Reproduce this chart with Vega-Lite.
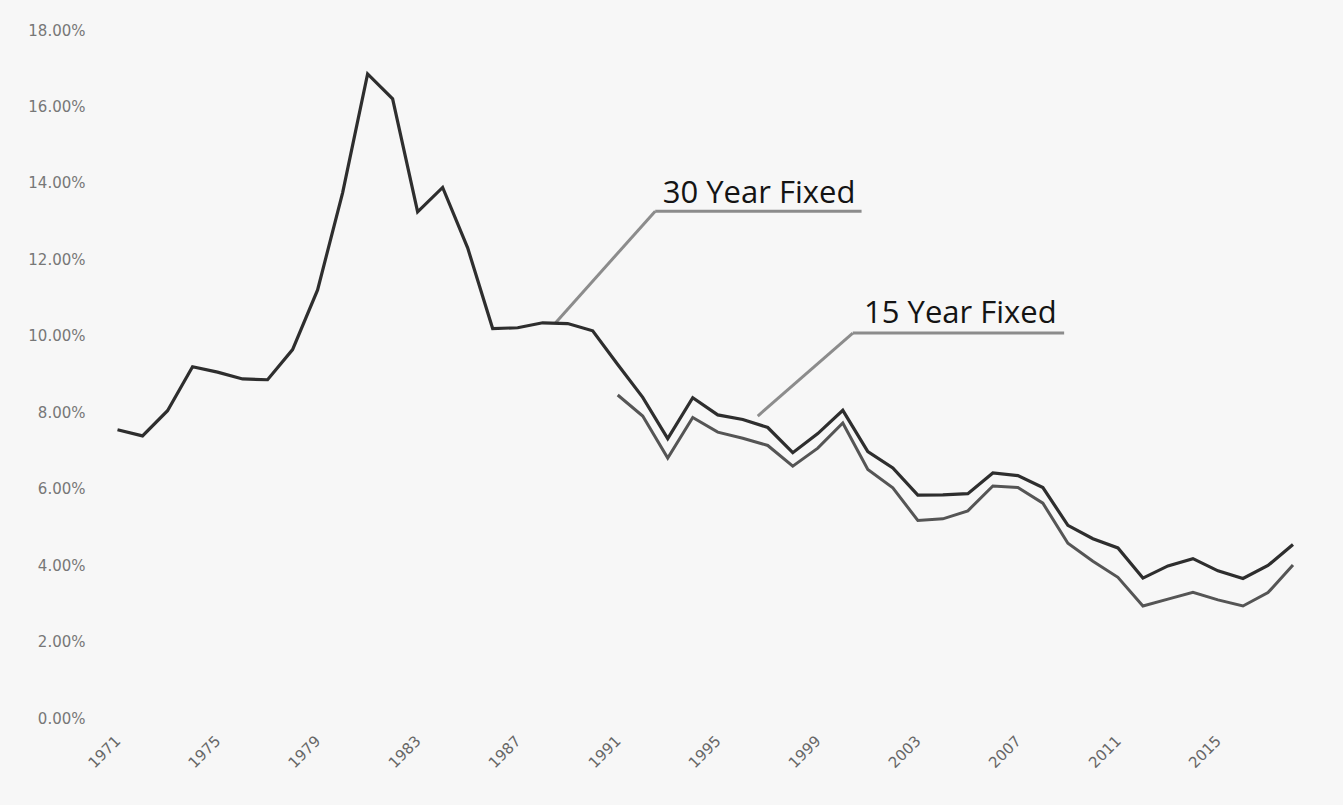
{
  "$schema": "https://vega.github.io/schema/vega-lite/v6.json",
  "autosize": "none",
  "width": 1238,
  "height": 688,
  "padding": {"left": 95, "top": 30, "right": 10, "bottom": 87},
  "background": "#f7f7f7",
  "config": {"view": {"stroke": null}},
  "datasets": {
    "y30": [
      {"year": 1971, "rate": 7.54}, {"year": 1972, "rate": 7.38}, {"year": 1973, "rate": 8.04},
      {"year": 1974, "rate": 9.19}, {"year": 1975, "rate": 9.05}, {"year": 1976, "rate": 8.87},
      {"year": 1977, "rate": 8.85}, {"year": 1978, "rate": 9.64}, {"year": 1979, "rate": 11.2},
      {"year": 1980, "rate": 13.74}, {"year": 1981, "rate": 16.85}, {"year": 1982, "rate": 16.2},
      {"year": 1983, "rate": 13.24}, {"year": 1984, "rate": 13.88}, {"year": 1985, "rate": 12.3},
      {"year": 1986, "rate": 10.19}, {"year": 1987, "rate": 10.21}, {"year": 1988, "rate": 10.34},
      {"year": 1989, "rate": 10.32}, {"year": 1990, "rate": 10.13}, {"year": 1991, "rate": 9.25},
      {"year": 1992, "rate": 8.39}, {"year": 1993, "rate": 7.31}, {"year": 1994, "rate": 8.38},
      {"year": 1995, "rate": 7.93}, {"year": 1996, "rate": 7.81}, {"year": 1997, "rate": 7.6},
      {"year": 1998, "rate": 6.94}, {"year": 1999, "rate": 7.44}, {"year": 2000, "rate": 8.05},
      {"year": 2001, "rate": 6.97}, {"year": 2002, "rate": 6.54}, {"year": 2003, "rate": 5.83},
      {"year": 2004, "rate": 5.84}, {"year": 2005, "rate": 5.87}, {"year": 2006, "rate": 6.41},
      {"year": 2007, "rate": 6.34}, {"year": 2008, "rate": 6.03}, {"year": 2009, "rate": 5.04},
      {"year": 2010, "rate": 4.69}, {"year": 2011, "rate": 4.45}, {"year": 2012, "rate": 3.66},
      {"year": 2013, "rate": 3.98}, {"year": 2014, "rate": 4.17}, {"year": 2015, "rate": 3.85},
      {"year": 2016, "rate": 3.65}, {"year": 2017, "rate": 3.99}, {"year": 2018, "rate": 4.54}
    ],
    "y15": [
      {"year": 1991, "rate": 8.45}, {"year": 1992, "rate": 7.9}, {"year": 1993, "rate": 6.8},
      {"year": 1994, "rate": 7.86}, {"year": 1995, "rate": 7.48}, {"year": 1996, "rate": 7.32},
      {"year": 1997, "rate": 7.13}, {"year": 1998, "rate": 6.59}, {"year": 1999, "rate": 7.06},
      {"year": 2000, "rate": 7.72}, {"year": 2001, "rate": 6.5}, {"year": 2002, "rate": 6.02},
      {"year": 2003, "rate": 5.17}, {"year": 2004, "rate": 5.21}, {"year": 2005, "rate": 5.42},
      {"year": 2006, "rate": 6.07}, {"year": 2007, "rate": 6.03}, {"year": 2008, "rate": 5.62},
      {"year": 2009, "rate": 4.57}, {"year": 2010, "rate": 4.1}, {"year": 2011, "rate": 3.68},
      {"year": 2012, "rate": 2.93}, {"year": 2013, "rate": 3.11}, {"year": 2014, "rate": 3.29},
      {"year": 2015, "rate": 3.09}, {"year": 2016, "rate": 2.93}, {"year": 2017, "rate": 3.28},
      {"year": 2018, "rate": 4.0}
    ],
    "segs": [
      {"x": 1988.5, "y": 10.33, "x2": 1992.5, "y2": 13.26},
      {"x": 1992.5, "y": 13.26, "x2": 2000.75, "y2": 13.26},
      {"x": 1996.6, "y": 7.9, "x2": 2000.4, "y2": 10.07},
      {"x": 2000.4, "y": 10.07, "x2": 2008.85, "y2": 10.07}
    ],
    "labels": [
      {"x": 1992.8, "y": 13.47, "label": "30 Year Fixed"},
      {"x": 2000.85, "y": 10.33, "label": "15 Year Fixed"}
    ]
  },
  "layer": [
    {
      "data": {"name": "segs"},
      "mark": {"type": "rule", "color": "#8c8c8c", "strokeWidth": 3},
      "encoding": {
        "x": {"field": "x", "type": "quantitative", "scale": {"domain": [1970.1, 2019.6], "nice": false, "zero": false},
          "axis": {"values": [1971, 1975, 1979, 1983, 1987, 1991, 1995, 1999, 2003, 2007, 2011, 2015],
            "format": "d", "labelAngle": -45, "labelAlign": "right", "labelBaseline": "middle",
            "labelPadding": 20, "grid": false, "domain": false, "ticks": false, "title": null,
            "labelFont": "DejaVu Sans", "labelFontSize": 15, "labelColor": "#666", "labelFlush": false, "labelOverlap": false}},
        "y": {"field": "y", "type": "quantitative", "scale": {"domain": [0, 18], "nice": false, "zero": true},
          "axis": {"values": [0, 2, 4, 6, 8, 10, 12, 14, 16, 18],
            "labelExpr": "format(datum.value / 100, '.2%')",
            "grid": false, "domain": false, "ticks": false, "title": null, "labelPadding": 10,
            "labelFont": "DejaVu Sans", "labelFontSize": 15, "labelColor": "#777", "labelFlush": false, "labelOverlap": false}},
        "x2": {"field": "x2"},
        "y2": {"field": "y2"}
      }
    },
    {
      "data": {"name": "y15"},
      "mark": {"type": "line", "color": "#555555", "strokeWidth": 3, "strokeJoin": "miter"},
      "encoding": {
        "x": {"field": "year", "type": "quantitative"},
        "y": {"field": "rate", "type": "quantitative"}
      }
    },
    {
      "data": {"name": "y30"},
      "mark": {"type": "line", "color": "#2e2e2e", "strokeWidth": 3.2, "strokeJoin": "miter"},
      "encoding": {
        "x": {"field": "year", "type": "quantitative"},
        "y": {"field": "rate", "type": "quantitative"}
      }
    },
    {
      "data": {"name": "labels"},
      "mark": {"type": "text", "align": "left", "baseline": "alphabetic", "font": "Open Sans", "fontSize": 31, "color": "#141414"},
      "encoding": {
        "x": {"field": "x", "type": "quantitative"},
        "y": {"field": "y", "type": "quantitative"},
        "text": {"field": "label"}
      }
    }
  ]
}
